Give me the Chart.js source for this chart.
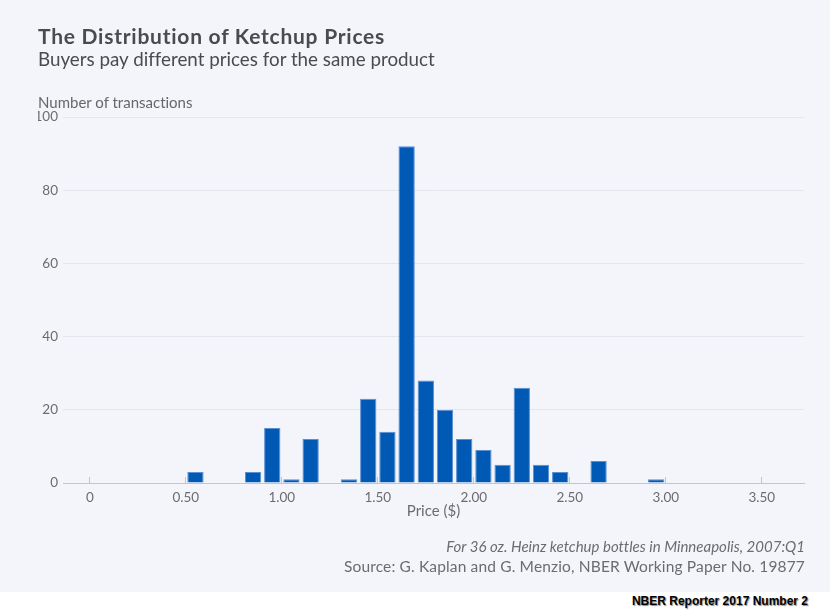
<!DOCTYPE html>
<html>
<head>
<meta charset="utf-8">
<script src="https://cdn.jsdelivr.net/npm/chart.js@4.4.1/dist/chart.umd.min.js"></script>
<style>
  html,body{margin:0;padding:0;width:830px;height:613px;background:#ffffff;overflow:hidden;}
  #panel{position:absolute;left:0;top:0;width:830px;height:592px;background:#f4f5fa;}
  #chartWrap{position:absolute;left:0;top:0;width:830px;height:592px;}
  .t{position:absolute;white-space:nowrap;line-height:1;font-family:Lato,"Noto Sans",sans-serif;font-variant-ligatures:none;font-feature-settings:"liga" 0;}
  #title{left:38px;top:25px;font-size:21px;font-weight:bold;color:#4a4a50;letter-spacing:0.75px;}
  #subtitle{left:38px;top:50px;font-size:18.8px;color:#4a4a50;}
  #ylab{left:38px;top:95px;font-size:15px;color:#66666b;}
  #note1{right:25px;top:539px;font-size:15px;font-style:italic;color:#6b6b70;}
  #note2{right:25px;top:559px;font-size:15.5px;letter-spacing:0.15px;color:#6b6b70;}
  #nber{position:absolute;right:22px;top:595px;font-family:"Liberation Sans",Arial,sans-serif;font-weight:bold;font-size:12px;color:#000;text-shadow:1px 1px 1px #888;white-space:nowrap;line-height:1;}
</style>
</head>
<body>
<div id="panel"></div>
<div id="chartWrap"><canvas id="c" width="830" height="592"></canvas></div>
<div class="t" id="title">The Distribution of Ketchup Prices</div>
<div class="t" id="subtitle">Buyers pay different prices for the same product</div>
<div class="t" id="ylab">Number of transactions</div>
<div class="t" id="note1">For 36 oz. Heinz ketchup bottles in Minneapolis, 2007:Q1</div>
<div class="t" id="note2">Source: G. Kaplan and G. Menzio, NBER Working Paper No. 19877</div>
<div id="nber">NBER Reporter 2017 Number 2</div>
<script>
// Price bin centers ($) and number of transactions
const priceBins = [0.55, 0.85, 0.95, 1.05, 1.15, 1.35, 1.45, 1.55, 1.65, 1.75, 1.85, 1.95, 2.05, 2.15, 2.25, 2.35, 2.45, 2.65, 2.95];
const transactions = [3, 3, 15, 1, 12, 1, 23, 14, 92, 28, 20, 12, 9, 5, 26, 5, 3, 6, 1];
const xTickValues = [0, 0.5, 1.0, 1.5, 2.0, 2.5, 3.0, 3.5];
const xTickLabels = ['0', '0.50', '1.00', '1.50', '2.00', '2.50', '3.00', '3.50'];
const yTickValues = [0, 20, 40, 60, 80, 100];
const yTickLabels = ['0', '20', '40', '60', '80', '100'];

const fontFam = 'Lato, "Noto Sans", sans-serif';
const points = priceBins.map((p, i) => ({x: p, y: transactions[i]}));

new Chart(document.getElementById('c'), {
  type: 'bar',
  data: {
    datasets: [{
      data: points,
      backgroundColor: '#0059b5',
      borderColor: '#5b8fd3',
      borderWidth: 1,
      categoryPercentage: 1.0,
      barPercentage: 0.85
    }]
  },
  options: {
    responsive: false,
    animation: false,
    events: [],
    layout: {padding: {left: 38, top: 117, right: 26, bottom: 72}},
    plugins: {legend: {display: false}, tooltip: {enabled: false}, title: {display: false}},
    scales: {
      x: {
        type: 'linear',
        offset: false,
        min: -0.14,
        max: 3.72,
        afterBuildTicks: (s) => { s.ticks = xTickValues.map(v => ({value: v})); },
        afterFit: (s) => { s.height = 37; },
        ticks: {
          callback: (v, i) => xTickLabels[i],
          color: '#6b6b70',
          font: {family: fontFam, size: 13.5},
          padding: 13,
          maxRotation: 0,
          autoSkip: false
        },
        grid: {offset: false, drawOnChartArea: false, drawTicks: true, tickLength: -6, color: '#c4c5cc', lineWidth: 1},
        border: {display: true, color: '#c4c5cc', width: 1},
        title: {display: true, text: 'Price ($)', color: '#6b6b70', font: {family: fontFam, size: 15}, padding: {top: 0, bottom: 0}}
      },
      y: {
        min: 0,
        max: 100,
        afterBuildTicks: (s) => { s.ticks = yTickValues.map(v => ({value: v})); },
        afterFit: (s) => { s.width = 25; },
        ticks: {
          callback: (v, i) => yTickLabels[i],
          color: '#6b6b70',
          font: {family: fontFam, size: 13.5},
          padding: 5
        },
        grid: {drawTicks: false, color: '#e4e6ee', lineWidth: 1},
        border: {display: false}
      }
    }
  }
});
</script>
</body>
</html>
